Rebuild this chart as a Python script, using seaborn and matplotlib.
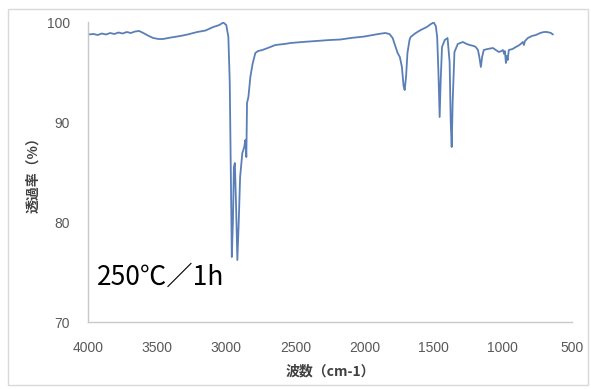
import matplotlib
matplotlib.use("Agg")
import matplotlib.pyplot as plt
import seaborn as sns
import pandas as pd
from matplotlib.patches import Rectangle

# ---- data ----
wavenumber = [4000, 3960, 3930, 3900, 3870, 3840, 3810, 3780, 3750, 3720, 3690, 3660,
              3630, 3600, 3560, 3529, 3490, 3457, 3400, 3333, 3280, 3210, 3150, 3094,
              3050, 3022, 3000, 2985, 2975, 2968, 2960, 2952, 2945, 2938, 2930, 2920,
              2910, 2900, 2884, 2870, 2862, 2855, 2850, 2840, 2826, 2810, 2790, 2770,
              2739, 2700, 2645, 2580, 2536, 2450, 2350, 2250, 2174, 2100, 2000, 1900,
              1850, 1820, 1797, 1775, 1761, 1745, 1730, 1718, 1710, 1700, 1690, 1675,
              1667, 1630, 1594, 1550, 1520, 1500, 1485, 1475, 1466, 1457, 1450, 1440,
              1420, 1400, 1385, 1377, 1370, 1363, 1350, 1326, 1290, 1260, 1240, 1210,
              1196, 1180, 1170, 1159, 1150, 1138, 1110, 1072, 1050, 1029, 1010, 1000,
              990, 985, 978, 972, 965, 957, 930, 906, 880, 855, 848, 840, 819, 790,
              761, 730, 703, 680, 652, 638]
transmittance = [98.75, 98.8, 98.7, 98.85, 98.75, 98.9, 98.8, 98.95, 98.85, 99.0, 98.9, 99.05,
                 99.1, 98.9, 98.6, 98.4, 98.3, 98.3, 98.45, 98.6, 98.75, 99.0, 99.15, 99.5,
                 99.7, 99.95, 99.7, 98.5, 94.0, 86.0, 76.5, 80.0, 85.5, 85.9, 82.0, 76.2,
                 80.0, 84.5, 86.9, 87.5, 88.2, 86.5, 91.9, 92.5, 94.5, 95.8, 96.9, 97.1,
                 97.2, 97.4, 97.7, 97.8, 97.9, 98.0, 98.1, 98.2, 98.25, 98.4, 98.55, 98.8,
                 98.9, 98.8, 98.4, 97.5, 96.9, 96.5, 95.5, 93.6, 93.2, 94.5, 96.9, 98.2,
                 98.5, 98.9, 99.2, 99.5, 99.8, 99.95, 99.6, 98.5, 95.0, 90.5, 94.0, 97.5,
                 98.2, 98.4, 96.0, 90.0, 87.5, 92.0, 97.0, 97.8, 98.0, 97.8, 97.7, 97.6,
                 97.5, 97.2, 96.5, 95.5, 96.5, 97.2, 97.3, 97.4, 97.2, 97.0, 97.1, 97.2,
                 96.8, 97.1, 95.9, 96.6, 96.2, 97.2, 97.3, 97.5, 97.7, 98.0, 97.7, 98.1,
                 98.4, 98.6, 98.7, 98.9, 99.0, 99.0, 98.9, 98.75]

x_ticks = [4000, 3500, 3000, 2500, 2000, 1500, 1000, 500]
y_ticks = [70, 80, 90, 100]
x_label = "波数（cm-1）"
y_label = "透過率（%）"
annotation = "250℃／1h"

df = pd.DataFrame({"wn": wavenumber, "T": transmittance})

sns.set_theme(style="white")
plt.rcParams["font.family"] = ["Noto Sans CJK JP", "DejaVu Sans"]

fig = plt.figure(figsize=(5.91, 3.89), dpi=100)
ax = fig.add_axes([88 / 591, 1 - 322 / 389, (572 - 88) / 591, (322 - 22) / 389])

sns.lineplot(data=df, x="wn", y="T", sort=False, estimator=None,
             color="#5a7fb8", linewidth=1.3, ax=ax)

ax.set_xlim(4000, 500)
ax.set_ylim(70, 100)
ax.set_xticks(x_ticks)
ax.set_yticks(y_ticks)

for side in ["top", "right"]:
    ax.spines[side].set_visible(False)
for side in ["left", "bottom"]:
    ax.spines[side].set_color("#c8c8c8")
    ax.spines[side].set_linewidth(1.0)

ax.tick_params(axis="both", which="major", direction="out", length=3,
               color="#c8c8c8", labelcolor="#595959", labelsize=10)
ax.tick_params(axis="x", pad=10.5)
ax.tick_params(axis="y", pad=10)
for lab in ax.get_xticklabels() + ax.get_yticklabels():
    lab.set_family(["Liberation Sans", "DejaVu Sans"])

ax.set_xlabel(x_label, fontsize=10, fontweight="bold", color="#404040", labelpad=7)
ax.set_ylabel(y_label, fontsize=10, fontweight="bold", color="#404040", labelpad=5)

ax.text(0.019, 0.123, annotation, transform=ax.transAxes, fontsize=19,
        color="black", va="baseline", ha="left")

fig.patches.append(Rectangle((8 / 591, 1 - 385 / 389), 580 / 591, 376 / 389,
                             transform=fig.transFigure, fill=False,
                             edgecolor="#d9d9d9", linewidth=1.0))

fig.savefig("out.png", dpi=100)
